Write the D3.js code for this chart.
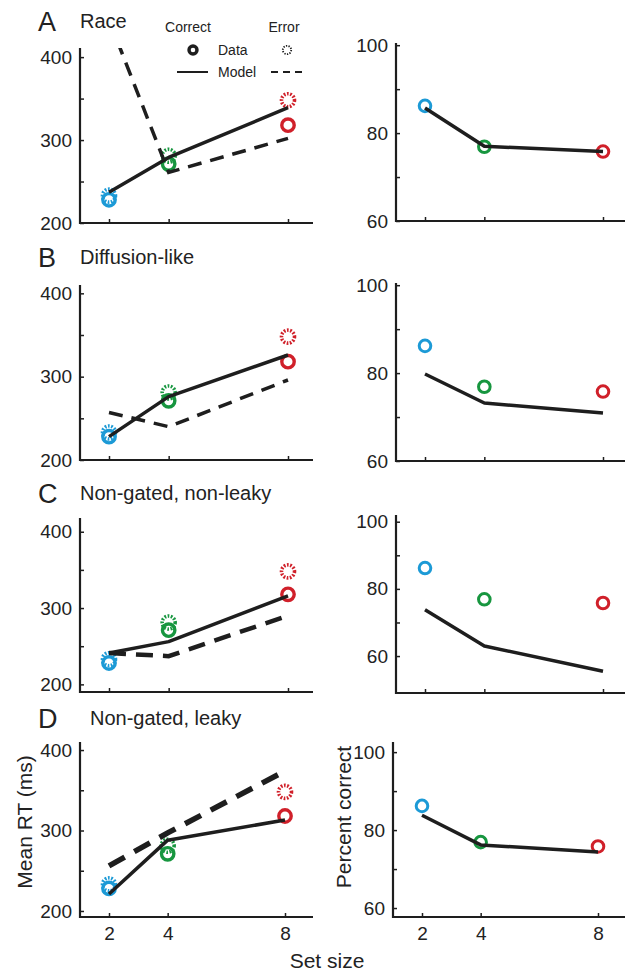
<!DOCTYPE html>
<html>
<head>
<meta charset="utf-8">
<script src="https://cdn.jsdelivr.net/npm/d3@7"></script>
<style>
  body { margin: 0; background: #fff; }
  svg { display: block; font-family: "Liberation Sans", Arial, sans-serif; }
  text { fill: #222; }
</style>
</head>
<body>
<svg id="fig" width="625" height="974"></svg>
<script>
// ---- data ----
const setSizes = [2, 4, 8];
const setColors = ["#1c9ad6", "#17963f", "#d0202a"];

// observed data (same in every row)
const rtCorrect = [228, 271, 318];
const rtError = [233, 281, 348];
const pctCorrect = [86.2, 76.9, 75.8];

// model fits, one row per model
const panelLetters = ["A", "B", "C", "D"];
const panelTitles = ["Race", "Diffusion-like", "Non-gated, non-leaky", "Non-gated, leaky"];
const modelRtCorrect = [
  [237, 279, 339],
  [228, 276, 326],
  [241, 256, 316],
  [221, 288, 313]
];
const modelRtError = [
  [445, 261, 302],
  [257, 240, 296],
  [241, 237, 290],
  [256, 297, 374]
];
const modelPct = [
  [85.7, 77.0, 75.8],
  [79.8, 73.2, 70.9],
  [73.8, 63.0, 55.5],
  [83.8, 76.2, 74.4]
];

const rtTicks = [200, 250, 300, 350, 400];
const pctTicks = [60, 70, 80, 90, 100];

// ---- layout (pixels) ----
const rows = [
  { title: { lx: 38, tx: 80, y: 31 }, L: { bot: 223, top: 48, dom: [200, 411] }, R: { bot: 221, top: 43, dom: [60, 100.5] }, dash: "14,9", dw: 3.5 },
  { title: { lx: 38, tx: 80, y: 267 }, L: { bot: 460, top: 285, dom: [200, 410] }, R: { bot: 461, top: 283, dom: [60, 100.5] }, dash: "14,9", dw: 3.5 },
  { title: { lx: 38, tx: 80, y: 503 }, L: { bot: 692, top: 518, dom: [190, 418] }, R: { bot: 693, top: 515, dom: [49, 102] }, dash: "17,10", dw: 4.5 },
  { title: { lx: 38, tx: 90, y: 728 }, L: { bot: 917, top: 742, dom: [192.5, 410] }, R: { bot: 917, top: 742, dom: [57.7, 102.6] }, dash: "18,11", dw: 5.5 }
];
const leftAx = { x0: 80, x1: 313, r: [109, 288] };
const rightAx = { x0: 396, x1: 625, r: [425, 603] };

const svg = d3.select("#fig");
const defs = svg.append("defs");
const ink = "#1e1e1e";

function drawAxes(g, x, y, ax, bot, top, ticks, showX) {
  // y ticks, minor ones unlabelled
  const ya = d3.axisLeft(y)
    .tickValues(ticks)
    .tickFormat((d, i) => i % 2 === 0 ? d : "")
    .tickSizeInner(-4).tickSizeOuter(0).tickPadding(8);
  const yg = g.append("g").attr("transform", `translate(${ax.x0},0)`).call(ya);
  yg.select(".domain").remove();
  yg.selectAll("line").attr("stroke", ink).attr("stroke-width", 1.5);
  yg.selectAll("text").style("font-size", "19px").attr("fill", "#222").attr("font-family", null);

  // x ticks
  const xa = d3.axisBottom(x)
    .tickValues(setSizes)
    .tickFormat(showX ? d3.format("d") : () => "")
    .tickSizeInner(-4).tickSizeOuter(0).tickPadding(10);
  const xg = g.append("g").attr("transform", `translate(0,${bot})`).call(xa);
  xg.select(".domain").remove();
  xg.selectAll("line").attr("stroke", ink).attr("stroke-width", 1.5);
  xg.selectAll("text").style("font-size", "19px").attr("fill", "#222").attr("font-family", null);

  // axis lines
  g.append("path")
    .attr("d", `M${ax.x0},${top} V${bot} H${ax.x1}`)
    .attr("fill", "none").attr("stroke", ink).attr("stroke-width", 2.2);
}

function ring(g, cx, cy, color, r, sw, dashed) {
  g.append("circle")
    .attr("cx", cx).attr("cy", cy).attr("r", r)
    .attr("fill", "none").attr("stroke", color).attr("stroke-width", sw)
    .attr("stroke-dasharray", dashed ? "1.7,1.5" : null);
}

rows.forEach((row, p) => {
  const last = p === rows.length - 1;
  const lax = last ? { x0: 80, x1: 313, r: [109, 285] } : leftAx;
  const rax = last ? { x0: 393, x1: 625, r: [422, 598] } : rightAx;

  // titles
  svg.append("text").attr("x", row.title.lx).attr("y", row.title.y)
    .style("font-size", "27px").text(panelLetters[p]);
  svg.append("text").attr("x", row.title.tx).attr("y", row.title.y - 3)
    .style("font-size", "20px").text(panelTitles[p]);

  // ---- RT panel ----
  const xL = d3.scaleLinear().domain([2, 8]).range(lax.r);
  const yL = d3.scaleLinear().domain(row.L.dom).range([row.L.bot, row.L.top]);
  const gL = svg.append("g");
  drawAxes(gL, xL, yL, lax, row.L.bot, row.L.top, rtTicks, last);

  defs.append("clipPath").attr("id", "clipL" + p)
    .append("rect").attr("x", lax.x0).attr("y", row.L.top)
    .attr("width", lax.x1 - lax.x0).attr("height", row.L.bot - row.L.top);

  setSizes.forEach((s, i) => {
    ring(gL, xL(s), yL(rtError[i]), setColors[i], 6.5, 3.6, true);
    ring(gL, xL(s), yL(rtCorrect[i]), setColors[i], 6.2, 3.4, false);
  });

  const lineL = d3.line().x((d, i) => xL(setSizes[i])).y(d => yL(d));
  gL.append("path").datum(modelRtError[p])
    .attr("clip-path", `url(#clipL${p})`)
    .attr("d", lineL).attr("fill", "none").attr("stroke", ink)
    .attr("stroke-width", row.dw).attr("stroke-dasharray", row.dash);
  gL.append("path").datum(modelRtCorrect[p])
    .attr("d", lineL).attr("fill", "none").attr("stroke", ink)
    .attr("stroke-width", 3.5).attr("stroke-linejoin", "round");

  // ---- accuracy panel ----
  const xR = d3.scaleLinear().domain([2, 8]).range(rax.r);
  const yR = d3.scaleLinear().domain(row.R.dom).range([row.R.bot, row.R.top]);
  const gR = svg.append("g");
  drawAxes(gR, xR, yR, rax, row.R.bot, row.R.top, pctTicks, last);

  setSizes.forEach((s, i) => {
    ring(gR, xR(s), yR(pctCorrect[i]), setColors[i], 5.8, 3, false);
  });
  const lineR = d3.line().x((d, i) => xR(setSizes[i])).y(d => yR(d));
  gR.append("path").datum(modelPct[p])
    .attr("d", lineR).attr("fill", "none").attr("stroke", ink)
    .attr("stroke-width", 3.5).attr("stroke-linejoin", "round");
});

// ---- legend (panel A) ----
const leg = svg.append("g").style("font-size", "14px");
leg.append("text").attr("x", 188).attr("y", 32).attr("text-anchor", "middle").text("Correct");
leg.append("text").attr("x", 284).attr("y", 32).attr("text-anchor", "middle").text("Error");
ring(leg, 193, 50, ink, 4, 3.4, false);
leg.append("text").attr("x", 218).attr("y", 55).text("Data");
leg.append("circle").attr("cx", 287).attr("cy", 50).attr("r", 4.2)
  .attr("fill", "none").attr("stroke", ink).attr("stroke-width", 1.8).attr("stroke-dasharray", "1.3,1.3");
leg.append("line").attr("x1", 177).attr("x2", 208).attr("y1", 72).attr("y2", 72)
  .attr("stroke", ink).attr("stroke-width", 2);
leg.append("text").attr("x", 218).attr("y", 77).text("Model");
leg.append("line").attr("x1", 271).attr("x2", 303).attr("y1", 72).attr("y2", 72)
  .attr("stroke", ink).attr("stroke-width", 2).attr("stroke-dasharray", "7,5");

// ---- axis titles ----
svg.append("text").attr("transform", "translate(32,822) rotate(-90)")
  .attr("text-anchor", "middle").style("font-size", "21px").text("Mean RT (ms)");
svg.append("text").attr("transform", "translate(351,817) rotate(-90)")
  .attr("text-anchor", "middle").style("font-size", "21px").text("Percent correct");
svg.append("text").attr("x", 327).attr("y", 968)
  .attr("text-anchor", "middle").style("font-size", "21px").text("Set size");
</script>
</body>
</html>
